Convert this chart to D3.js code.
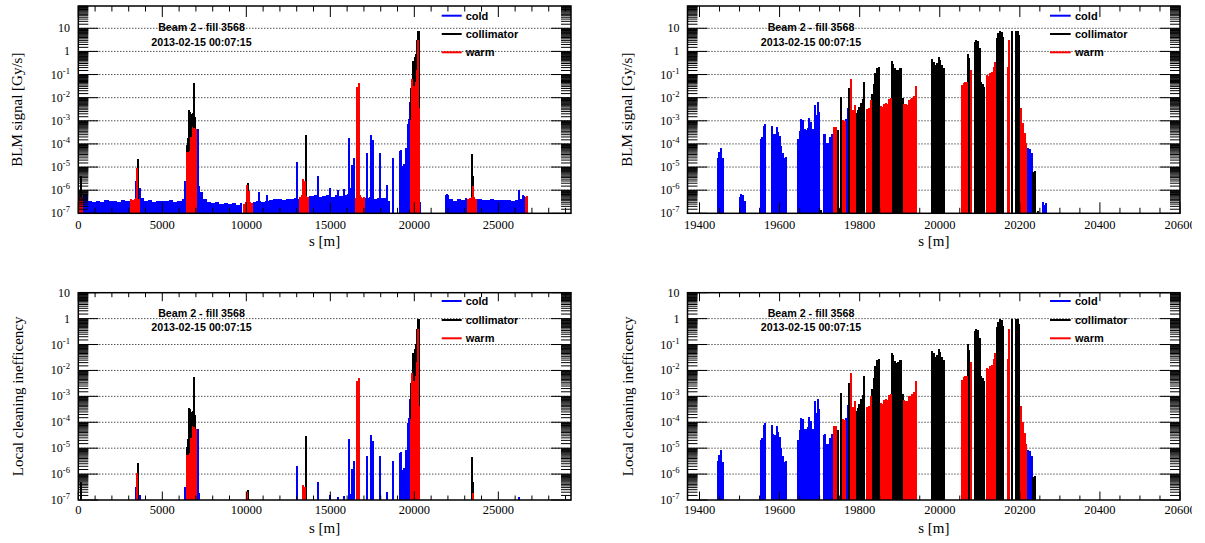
<!DOCTYPE html>
<html><head><meta charset="utf-8">
<script src="https://cdn.jsdelivr.net/npm/d3@7"></script>
<style>
body{margin:0;background:#fff;}
svg{display:block;}
</style></head><body>
<svg id="c" width="1205" height="543"></svg>
<script>
// ---------------- DATA ----------------
const legendLabels = ["cold", "collimator", "warm"];
const annotationLines = ["Beam 2 - fill 3568", "2013-02-15 00:07:15"];
const xTitle = "s [m]";
const yTitleSignal = "BLM signal [Gy/s]";
const yTitleIneff = "Local cleaning inefficency";
const ringTickLabels = [0, 5000, 10000, 15000, 20000, 25000];
const ir7TickLabels = [19400, 19600, 19800, 20000, 20200, 20400, 20600];
const ringDomain = [0, 29325];
const ir7Domain = [19370, 20600];
const signalDomain = [1e-7, 92];
const ineffDomain = [1e-7, 10];
const peakSignal = 7.9; // Gy/s, highest collimator signal -> inefficiency 1

// cold BLM background along the ring [s (m), signal (Gy/s)] (histogram-like samples)
const coldBaseline = [
 [300,6.5e-7],[550,3.5e-7],[800,3.2e-7],[1050,3.4e-7],[1300,3.0e-7],[1550,3.6e-7],[1800,3.3e-7],[2050,3.5e-7],[2300,3.2e-7],[2550,3.6e-7],[2800,3.4e-7],[3050,4.0e-7],
 [3650,4.5e-7],[3900,3.4e-7],[4150,3.6e-7],[4400,3.2e-7],[4650,3.5e-7],[4900,3.4e-7],[5150,3.3e-7],[5400,3.6e-7],[5650,3.2e-7],[5900,3.4e-7],[6150,4.0e-7],[6300,5.0e-7],
 [7160,8e-7],[7400,4e-7],[7650,3e-7],[7900,2.8e-7],[8150,3.2e-7],[8400,2.6e-7],[8650,2.8e-7],[8900,2.5e-7],[9150,2.7e-7],[9400,2.4e-7],[9650,2.8e-7],
 [10380,3e-7],[10600,3.3e-7],[10850,3e-7],[11100,3.4e-7],[11350,3.6e-7],[11600,4e-7],[11850,4.2e-7],[12100,3.8e-7],[12350,4.3e-7],[12600,4e-7],[12850,4.5e-7],[13020,4.2e-7],
 [13750,5.5e-7],[14000,6e-7],[14250,5e-7],[14500,5.5e-7],[14750,6.5e-7],[15000,5.2e-7],[15250,6e-7],[15500,5.5e-7],[15750,6.5e-7],[16000,7e-7],[16250,6e-7],[16350,5.5e-7],
 [17070,4.5e-7],[17300,5e-7],[17550,4.2e-7],[17800,4.8e-7],[18050,4.4e-7],[18300,4e-7],[18430,3.5e-7],
 [21830,6e-7],[22050,4e-7],[22300,3.5e-7],[22550,4.2e-7],[22800,3.8e-7],[23040,4.5e-7],
 [23750,4e-7],[24000,3.6e-7],[24250,3.8e-7],[24500,4.2e-7],[24750,3.7e-7],[25000,3.9e-7],[25250,3.6e-7],[25500,3.8e-7],[25750,3.5e-7],[26000,3.7e-7],[26250,4e-7],[26470,5.5e-7]
];
// warm sections (long straight sections) background
const warmBaseline = [
 [0,5.5e-7],[100,5e-7],[160,5.2e-7],
 [3100,4e-7],[3200,3.8e-7],[3300,4.2e-7],[3400,4.5e-7],[3530,4e-7],
 [6410,4.5e-5],[6500,4.5e-5],[6590,5e-5],[6660,2e-4],[6740,5.5e-4],[6820,5e-4],[6920,4.5e-4],
 [9790,2.5e-7],[9900,3e-7],[10000,1.6e-6],[10100,9e-7],[10200,3e-7],[10260,2.8e-7],
 [13140,5e-7],[13240,6e-7],[13330,3e-6],[13430,2.6e-6],[13530,5.5e-7],[13630,5e-7],
 [16470,4.5e-7],[16570,5e-7],[16700,6e-7],[16800,5e-7],[16900,4.5e-7],[16950,5e-7],
 [23160,4e-7],[23260,4.5e-7],[23360,5e-7],[23460,1.5e-6],[23530,5e-7],[23630,4e-7],
 [26590,5e-7],[26640,5.5e-7]
];
// individual monitors outside IR7
const coldRingPeaks = [
 [3380,2.5e-6],[3420,1.5e-6],[3620,1.2e-6],[6300,2.5e-6],[6370,1.5e-6],[7040,4.5e-4],[7100,1.5e-6],[7180,8e-7],
 [10700,8e-7],[11200,6e-7],[12960,1.6e-5],[14230,4e-6],[14900,1.2e-6],[15400,1e-6],[15750,1.1e-6],
 [16060,1.8e-4],[16140,1.3e-6],[16230,1.2e-5],[16330,2.5e-5],[17130,4e-5],[17370,2.5e-4],[17510,1.5e-4],
 [17870,4e-5],[18300,1.6e-6],[18700,2.5e-5],[19080,5e-5],[19150,5.5e-5],[19220,1.1e-5],[19300,1.3e-5],[19360,1e-5],
 [21870,7e-7],[23450,1.2e-6],[26200,1e-6],[26420,6e-7]
];
const collimatorRingPeaks = [
 [100,4e-6],[3500,2.2e-5],[6390,9e-5],[6470,1.8e-4],[6550,2.8e-3],[6610,2.5e-3],[6690,2e-3],[6750,2.2e-3],
 [6810,4.5e-2],[6860,1.5e-3],[10050,2e-6],[13480,2.4e-4],[23400,3.7e-5],[23440,4e-6]
];
const warmRingPeaks = [[3450,9e-6],[16540,3e-2],[16620,4.2e-2]];
// IR7 betatron cleaning insertion monitors
const coldIR7 = [
 [19443,2.5e-5],[19447,4.5e-5],[19451,7e-5],[19455,2.4e-5],
 [19498,5e-7],[19502,7e-7],[19506,6e-7],[19510,3.5e-7],
 [19550,1.6e-4],[19554,2e-4],[19558,6e-4],[19562,7.5e-4],
 [19578,6e-4],[19582,2.8e-4],[19586,2.6e-4],[19590,5.5e-4],[19594,3.2e-4],[19598,2.2e-4],[19602,8e-5],[19606,4e-5],[19610,2.4e-5],[19614,2.6e-5],
 [19644,1.7e-4],[19648,3.8e-4],[19652,1.2e-3],[19656,1.1e-3],[19660,4.5e-4],[19664,4.2e-4],[19668,5e-4],[19672,1.3e-3],[19676,9e-4],[19680,4.5e-4],[19685,5e-3],[19689,1.8e-3],[19693,6.5e-3],[19697,2.5e-3],
 [19708,2.6e-4],[19712,2.8e-4],[19716,1.1e-4],[19720,1.1e-4],[19724,2e-4],[19728,2.8e-4],
 [19764,1.2e-3],[19768,3.6e-3],
 [20219,6.5e-5],[20223,6e-5],[20227,4e-5],
 [20255,3e-7],[20259,2.2e-7],[20263,2.8e-7]
];
const collimatorIR7 = [
 [19700,1.4e-7],[19743,4e-4],[19748,1.5e-7],[19752,1.1e-2],[19771,2.6e-2],
 [19789,2.2e-3],[19793,2.8e-3],[19797,4e-3],[19801,6e-3],[19805,9e-3],[19809,4.9e-2],
 [19829,1.5e-2],[19833,4e-2],[19837,0.12],[19841,0.2],[19845,0.22],
 [19877,0.38],[19881,0.3],[19885,0.19],[19889,0.15],[19893,0.16],[19897,0.2],[19901,0.2],[19905,1e-2],
 [19979,0.46],[19983,0.36],[19987,0.27],[19991,0.32],[19995,0.55],[19999,0.42],[20003,0.27],[20007,0.2],
 [20067,0.8],[20071,0.5],
 [20085,2.6],[20089,3.2],[20093,2.8],[20097,1.4],[20101,0.05],[20105,0.04],[20109,0.03],
 [20140,3.7],[20144,6],[20148,7.9],[20152,7.2],[20156,4],
 [20178,7.9],[20188,7.9],[20192,7.5],[20196,5],
 [20231,6e-6],[20235,6.5e-6],[20243,1.2e-7]
];
const warmIR7 = [
 [19734,5.5e-4],[19738,5.5e-4],[19757,1.1e-3],[19761,1e-3],[19775,6.5e-2],[19781,3e-3],[19785,5e-3],
 [19817,3.2e-3],[19821,3.5e-3],[19825,8e-3],
 [19851,4.5e-3],[19855,4e-3],[19859,5.5e-3],[19863,6e-3],[19867,5.5e-3],[19871,9e-3],[19875,1e-2],
 [19909,5.5e-3],[19913,5.3e-3],[19917,5e-3],[19921,8e-3],[19925,8.5e-3],[19929,1e-2],[19933,1.2e-2],[19937,3.2e-2],
 [20053,3.5e-2],[20057,4.5e-2],[20061,5e-2],[20065,5e-2],[20075,0.16],
 [20116,0.1],[20120,0.09],[20124,0.12],[20128,0.13],[20132,0.22],[20136,0.36],
 [20167,0.22],[20171,3.1],
 [20201,3.5e-3],[20205,8e-4],[20210,3e-4],[20214,1.1e-4]
];
const binJoinGap = 300;      // m: background samples closer than this form a continuous histogram
const isolatedBinWidth = 120; // m

// ---------------- STYLE / LAYOUT ----------------
const colors = {cold: "#0000ff", collimator: "#000000", warm: "#ff0000"};
const serif = "'Liberation Serif','Times New Roman',serif";
const sans = "'Liberation Sans',Arial,Helvetica,sans-serif";

const rows = [
  {y0: 6, y1: 213.3, yDomain: signalDomain, norm: 1, yTitle: yTitleSignal, yTitleX: 22,
   xLabelBase: 228.5, xTitleBase: 246, xMajLen: 11, xMinLen: 5.5,
   annBase: [30.7, 46], legY: [15.7, 34, 52.3]},
  {y0: 292.7, y1: 500, yDomain: ineffDomain, norm: peakSignal, yTitle: yTitleIneff, yTitleX: 23,
   xLabelBase: 514, xTitleBase: 533, xMajLen: 8.5, xMinLen: 4.5,
   annBase: [317.3, 330.7], legY: [301, 320, 338.3]}
];
const cols = [
  {x0: 78.3, x1: 571, xDomain: ringDomain, labels: ringTickLabels, minorStep: 1000, peakPx: 2,
   yTitleDX: 0, yLabelX: 70, annX: 201.5, legX0: 441.7, legX1: 461.7, legTX: 465.7},
  {x0: 687.5, x1: 1180, xDomain: ir7Domain, labels: ir7TickLabels, minorStep: 50, peakPx: 2,
   yTitleDX: 609.5, yLabelX: 679.5, annX: 811, legX0: 1050, legX1: 1070.7, legTX: 1075}
];

const svg = d3.select("#c");
const defs = svg.append("defs");
defs.append("clipPath").attr("id", "pageclip").append("rect")
  .attr("x", 0).attr("y", 0).attr("width", 1192).attr("height", 543);

function baselineBins(data) {
  return data.map((d, i) => {
    const next = data[i + 1];
    const s1 = (next && next[0] - d[0] <= binJoinGap) ? next[0] : d[0] + isolatedBinWidth;
    return {s0: d[0], s1: s1, v: d[1]};
  });
}
function peakBins(data) { return data.map(d => ({s0: d[0], s1: null, v: d[1]})); }

const layers = [
  {key: "cold", bins: baselineBins(coldBaseline)},
  {key: "cold", bins: peakBins(coldRingPeaks.concat(coldIR7))},
  {key: "collimator", bins: peakBins(collimatorRingPeaks.concat(collimatorIR7))},
  {key: "warm", bins: baselineBins(warmBaseline)},
  {key: "warm", bins: peakBins(warmRingPeaks.concat(warmIR7))}
];

function supLabel(sel, exp) {
  if (exp === 1) { sel.text("10"); return; }
  if (exp === 0) { sel.text("1"); return; }
  sel.append("tspan").text("10");
  sel.append("tspan").attr("dy", -5).attr("font-size", 8.6).text(String(exp));
}

let pid = 0;
rows.forEach(row => {
  cols.forEach(col => {
    pid++;
    const g = svg.append("g").attr("clip-path", "url(#pageclip)");
    const x = d3.scaleLinear().domain(col.xDomain).range([col.x0, col.x1]);
    const y = d3.scaleLog().domain(row.yDomain).range([row.y1, row.y0]);
    const cid = "pc" + pid;
    defs.append("clipPath").attr("id", cid).append("rect")
      .attr("x", col.x0).attr("y", row.y0).attr("width", col.x1 - col.x0).attr("height", row.y1 - row.y0);

    // grid
    const decades = d3.range(-7, 2).map(e => Math.pow(10, e));
    g.append("g").selectAll("line").data(decades.filter(v => y(v) > row.y0 + 0.5 && y(v) < row.y1 - 0.5))
      .join("line").attr("x1", col.x0).attr("x2", col.x1)
      .attr("y1", d => y(d)).attr("y2", d => y(d))
      .attr("stroke", "#000").attr("stroke-width", 1).attr("stroke-dasharray", "1,2");

    // bars
    const bg = g.append("g").attr("clip-path", `url(#${cid})`).attr("shape-rendering", "crispEdges");
    layers.forEach(layer => {
      const vis = layer.bins.filter(b => b.v / row.norm > row.yDomain[0]);
      bg.append("g").selectAll("rect").data(vis).join("rect")
        .attr("x", b => x(b.s0))
        .attr("width", b => b.s1 === null ? col.peakPx : Math.max(1, x(b.s1) - x(b.s0)))
        .attr("y", b => y(b.v / row.norm))
        .attr("height", b => row.y1 - y(b.v / row.norm))
        .attr("fill", colors[layer.key]);
    });

    // y ticks
    const tg = g.append("g").attr("stroke", "#000").attr("stroke-width", 1);
    const minors = [];
    d3.range(-7, 2).forEach(e => {
      for (let k = 1.5; k < 10; k += 0.5) {
        const v = k * Math.pow(10, e);
        if (v > row.yDomain[0] && v < row.yDomain[1]) minors.push(v);
      }
    });
    const majorsY = decades.filter(v => v >= row.yDomain[0] && v <= row.yDomain[1]);
    [[majorsY, 20], [minors, 10]].forEach(([vals, len]) => {
      tg.append("g").selectAll("line").data(vals).join("line")
        .attr("x1", col.x0).attr("x2", col.x0 + len).attr("y1", d => y(d)).attr("y2", d => y(d));
      tg.append("g").selectAll("line").data(vals).join("line")
        .attr("x1", col.x1).attr("x2", col.x1 - len).attr("y1", d => y(d)).attr("y2", d => y(d));
    });
    // x ticks
    const xMinor = d3.range(Math.ceil(col.xDomain[0] / col.minorStep) * col.minorStep, col.xDomain[1] + 1e-6, col.minorStep)
      .filter(s => !col.labels.includes(s));
    const xMajor = col.labels.filter(s => s >= col.xDomain[0] && s <= col.xDomain[1]);
    [[xMajor, row.xMajLen], [xMinor, row.xMinLen]].forEach(([vals, len]) => {
      tg.append("g").selectAll("line").data(vals).join("line")
        .attr("x1", d => x(d)).attr("x2", d => x(d)).attr("y1", row.y1).attr("y2", row.y1 - len);
      tg.append("g").selectAll("line").data(vals).join("line")
        .attr("x1", d => x(d)).attr("x2", d => x(d)).attr("y1", row.y0).attr("y2", row.y0 + len);
    });

    // frame
    g.append("rect").attr("x", col.x0).attr("y", row.y0)
      .attr("width", col.x1 - col.x0).attr("height", row.y1 - row.y0)
      .attr("fill", "none").attr("stroke", "#000").attr("stroke-width", 1.5);

    // y labels
    g.append("g").selectAll("text").data(d3.range(-7, 2).filter(e => Math.pow(10, e) <= row.yDomain[1]))
      .join("text").attr("x", col.yLabelX).attr("y", e => y(Math.pow(10, e)) + 4)
      .attr("text-anchor", "end").attr("font-family", serif).attr("font-size", 12).attr("fill", "#000")
      .each(function(e) { supLabel(d3.select(this), e); });
    // x labels
    g.append("g").selectAll("text").data(xMajor).join("text")
      .attr("x", d => x(d)).attr("y", row.xLabelBase).attr("text-anchor", "middle")
      .attr("font-family", serif).attr("font-size", 12.5).text(d => String(d));
    // titles
    g.append("text").attr("x", (col.x0 + col.x1) / 2).attr("y", row.xTitleBase)
      .attr("text-anchor", "middle").attr("font-family", serif).attr("font-size", 15).text(xTitle);
    const ytx = row.yTitleX + col.yTitleDX, yty = (row.y0 + row.y1) / 2;
    g.append("text").attr("transform", `translate(${ytx},${yty}) rotate(-90)`)
      .attr("text-anchor", "middle").attr("font-family", serif).attr("font-size", 15).text(row.yTitle);

    // annotation
    annotationLines.forEach((t, i) => {
      g.append("text").attr("x", col.annX).attr("y", row.annBase[i]).attr("text-anchor", "middle")
        .attr("font-family", sans).attr("font-weight", "bold").attr("font-size", 10.7).text(t);
    });
    // legend
    legendLabels.forEach((t, i) => {
      const ly = row.legY[i];
      g.append("line").attr("x1", col.legX0).attr("x2", col.legX1).attr("y1", ly).attr("y2", ly)
        .attr("stroke", colors[t]).attr("stroke-width", 2);
      g.append("text").attr("x", col.legTX).attr("y", ly + 4)
        .attr("font-family", sans).attr("font-weight", "bold").attr("font-size", 11).text(t);
    });
  });
});
</script></body></html>
